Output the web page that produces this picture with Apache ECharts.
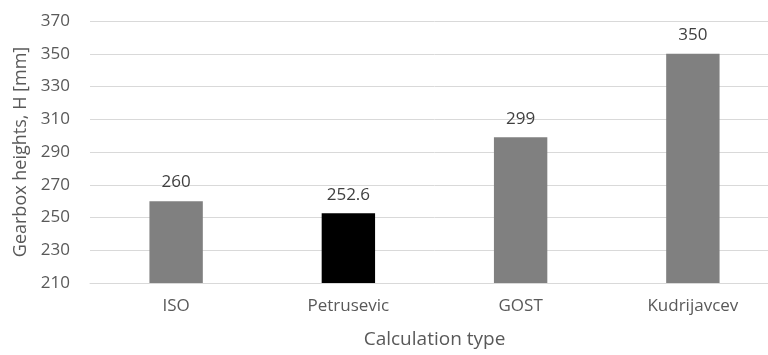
<!DOCTYPE html>
<html><head><meta charset="utf-8">
<script src="https://cdn.jsdelivr.net/npm/echarts@6/dist/echarts.min.js"></script>
<style>html,body{margin:0;padding:0;background:#fff;overflow:hidden}#c{width:779px;height:355px}</style>
</head><body><div id="c"></div>
<script>
const categories = ['ISO', 'Petrusevic', 'GOST', 'Kudrijavcev'];
const heights = [260, 252.6, 299, 350];
const barColors = ['#808080', '#000000', '#808080', '#808080'];
const yTicks = { min: 210, max: 370, interval: 20 };

const FONT = 'Open Sans';
const chart = echarts.init(document.getElementById('c'));
chart.setOption({
  animation: false,
  textStyle: { fontFamily: FONT },
  grid: { left: 90, right: 0, top: 21, bottom: 72, containLabel: false },
  xAxis: {
    type: 'category',
    data: categories,
    name: 'Calculation type',
    nameLocation: 'middle',
    nameGap: 47,
    nameTextStyle: { fontFamily: FONT, fontSize: 19, color: '#595959' },
    axisLine: { show: true, lineStyle: { color: '#d9d9d9' } },
    axisTick: { show: false },
    axisLabel: { fontFamily: FONT, fontSize: 17, color: '#595959', margin: 15 }
  },
  yAxis: {
    type: 'value',
    min: yTicks.min, max: yTicks.max, interval: yTicks.interval,
    name: 'Gearbox heights, H [mm]',
    nameLocation: 'middle',
    nameGap: 59,
    nameTextStyle: { fontFamily: FONT, fontSize: 18, color: '#595959' },
    axisLine: { show: false },
    axisTick: { show: false },
    axisLabel: { fontFamily: FONT, fontSize: 17, color: '#595959', margin: 20 },
    splitLine: { lineStyle: { color: '#d9d9d9', width: 1 } }
  },
  series: [{
    type: 'bar',
    barWidth: '31%',
    data: heights.map((v, i) => ({ value: v, itemStyle: { color: barColors[i] } })),
    label: { show: true, position: 'top', distance: 10, fontFamily: FONT, fontSize: 17, color: '#404040' }
  }]
});
</script></body></html>
